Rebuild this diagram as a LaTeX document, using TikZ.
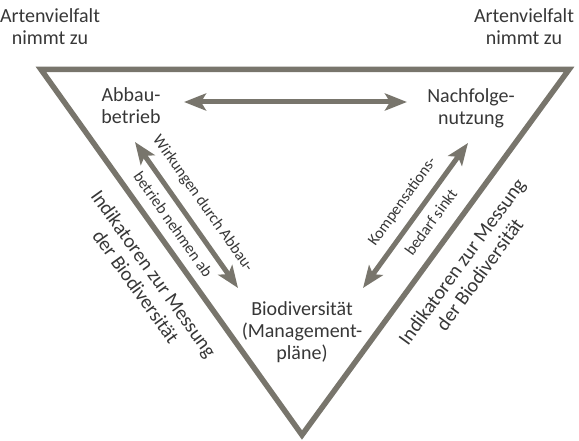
\documentclass[tikz,border=0pt]{standalone}
\usepackage{fontspec}
\setmainfont{Carlito}
\usetikzlibrary{arrows.meta,calc}
\definecolor{framegray}{RGB}{120,117,108}
\definecolor{textgray}{RGB}{55,55,55}
\begin{document}
\begin{tikzpicture}[x=1pt,y=-1pt,
  lbl/.style={font=\fontsize{20}{22}\selectfont, text=textgray, align=center, inner sep=0pt},
  small/.style={font=\fontsize{16}{18}\selectfont, text=textgray, inner sep=0pt, text height=11pt, text depth=3.5pt},
  tipshape/.tip={Stealth[length=22pt,width=17pt,inset=5pt]},
  dblarrow/.style={draw=framegray, line width=5pt, tipshape-tipshape},
  frame/.style={draw=framegray, line width=5.5pt, line join=miter}]
\useasboundingbox (0,0) rectangle (579,441);
% triangle
\coordinate (tl) at (41,69.5);
\coordinate (tr) at (569,69.5);
\coordinate (ap) at (302,435);
\draw[frame] (tl) -- (tr) -- (ap) -- cycle;
% corner labels
\node[lbl] (artl) at (50,26.5) {Artenvielfalt\\nimmt zu};
\node[lbl] (artr) at (524,26.5) {Artenvielfalt\\nimmt zu};
% main nodes
\node[lbl] (abbau) at (131,106) {Abbau-\\betrieb};
\node[lbl] (nach) at (471,108) {Nachfolge-\\nutzung};
\node[lbl] (bio) at (302,332) {Biodiversität\\(Management-\\pläne)};
% indicator labels
\node[lbl, rotate=-54.4] (indl) at (145,280) {Indikatoren zur Messung\\der Biodiversität};
\node[lbl, rotate=53.9] (indr) at (470.5,268) {Indikatoren zur Messung\\der Biodiversität};
% arrows
\coordinate (h1) at (184,102);
\coordinate (h2) at (407,102);
\coordinate (l1) at (135,142);
\coordinate (l2) at (238,288);
\coordinate (r1) at (468,143);
\coordinate (r2) at (363,288);
\draw[dblarrow] (h1) -- (h2);
\draw[dblarrow] (l1) -- (l2);
\draw[dblarrow] (r2) -- (r1);
% arrow labels
\node[small, rotate=-54.8] (wirk1) at ($(l1)!0.5!(l2)!19.5pt!90:(l2)$) {Wirkungen durch Abbau-};
\node[small, rotate=-54.8] (wirk2) at ($(l1)!0.5!(l2)!18pt!-90:(l2)$) {betrieb nehmen ab};
\node[small, rotate=54.1] (komp1) at ($(r2)!0.52!(r1)!18pt!90:(r1)$) {Kompensations-};
\node[small, rotate=54.1] (komp2) at ($(r2)!0.52!(r1)!18pt!-90:(r1)$) {bedarf sinkt};
\end{tikzpicture}
\end{document}
